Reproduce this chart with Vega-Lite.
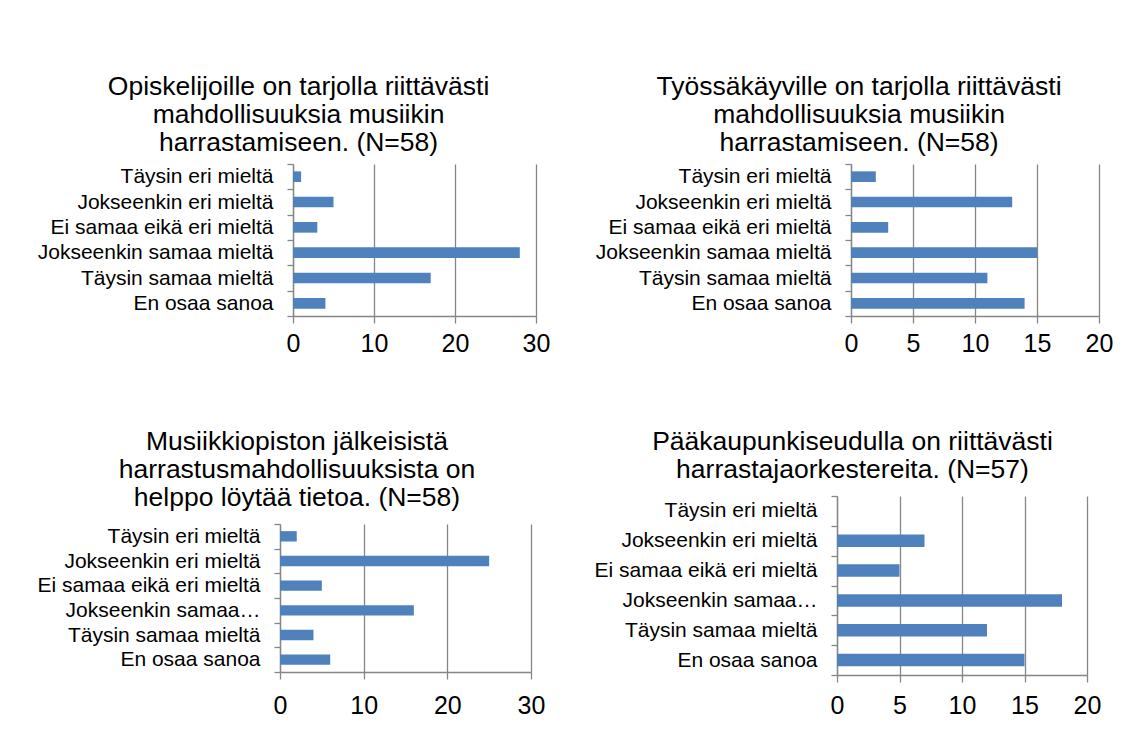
{
  "$schema": "https://vega.github.io/schema/vega-lite/v6.json",
  "background": "white",
  "padding": {"left": 37, "top": 73, "right": 0, "bottom": 0},
  "autosize": {"type": "pad"},
  "config": {
    "font": "Liberation Sans",
    "view": {"stroke": null},
    "axis": {"domainColor": "#868686", "tickColor": "#868686", "gridColor": "#868686", "labelColor": "#000000", "labelFont": "Liberation Sans", "title": null},
    "title": {"font": "Liberation Sans", "fontSize": 26.5, "fontWeight": "normal", "color": "#000000", "lineHeight": 28, "anchor": "middle", "frame": "bounds"}
  },
  "datasets": {
    "survey": [
      {"panel": 1, "category": "Täysin eri mieltä", "value": 1},
      {"panel": 1, "category": "Jokseenkin eri mieltä", "value": 5},
      {"panel": 1, "category": "Ei samaa eikä eri mieltä", "value": 3},
      {"panel": 1, "category": "Jokseenkin samaa mieltä", "value": 28},
      {"panel": 1, "category": "Täysin samaa mieltä", "value": 17},
      {"panel": 1, "category": "En osaa sanoa", "value": 4},
      {"panel": 2, "category": "Täysin eri mieltä", "value": 2},
      {"panel": 2, "category": "Jokseenkin eri mieltä", "value": 13},
      {"panel": 2, "category": "Ei samaa eikä eri mieltä", "value": 3},
      {"panel": 2, "category": "Jokseenkin samaa mieltä", "value": 15},
      {"panel": 2, "category": "Täysin samaa mieltä", "value": 11},
      {"panel": 2, "category": "En osaa sanoa", "value": 14},
      {"panel": 3, "category": "Täysin eri mieltä", "value": 2},
      {"panel": 3, "category": "Jokseenkin eri mieltä", "value": 25},
      {"panel": 3, "category": "Ei samaa eikä eri mieltä", "value": 5},
      {"panel": 3, "category": "Jokseenkin samaa mieltä", "value": 16},
      {"panel": 3, "category": "Täysin samaa mieltä", "value": 4},
      {"panel": 3, "category": "En osaa sanoa", "value": 6},
      {"panel": 4, "category": "Täysin eri mieltä", "value": 0},
      {"panel": 4, "category": "Jokseenkin eri mieltä", "value": 7},
      {"panel": 4, "category": "Ei samaa eikä eri mieltä", "value": 5},
      {"panel": 4, "category": "Jokseenkin samaa mieltä", "value": 18},
      {"panel": 4, "category": "Täysin samaa mieltä", "value": 12},
      {"panel": 4, "category": "En osaa sanoa", "value": 15}
    ]
  },
  "spacing": 44,
  "hconcat": [
    {
      "concat": [
        {
          "title": {"text": ["Opiskelijoille on tarjolla riittävästi", "mahdollisuuksia musiikin", "harrastamiseen. (N=58)"], "offset": -3, "dx": 5},
          "width": 256, "height": 152,
          "data": {"name": "survey"},
          "transform": [{"filter": "datum.panel == 1"}],
          "mark": {"type": "bar", "color": "#4F81BD", "height": {"band": 0.42}},
          "encoding": {
            "y": {"field": "category", "type": "nominal",
              "sort": ["Täysin eri mieltä", "Jokseenkin eri mieltä", "Ei samaa eikä eri mieltä", "Jokseenkin samaa mieltä", "Täysin samaa mieltä", "En osaa sanoa"],
              "scale": {"paddingInner": 0, "paddingOuter": 0},
              "axis": {"offset": -13, "tickBand": "extent", "labelFontSize": 21, "labelPadding": 14, "tickSize": 6, "tickWidth": 1.3, "domainWidth": 1.3, "grid": false, "labelLimit": 400}},
            "x": {"field": "value", "type": "quantitative", "scale": {"domain": [0, 30], "nice": false, "range": [13, 256]},
              "axis": {"values": [0, 10, 20, 30], "grid": true, "gridWidth": 1.3, "domainWidth": 1.3, "tickWidth": 1.3, "labelFontSize": 25, "tickSize": 7, "labelPadding": 8, "labelFlush": false, "labelOverlap": false}}
          }
        },
        {
          "title": {"text": ["Musiikkiopiston jälkeisistä", "harrastusmahdollisuuksista on", "helppo löytää tietoa. (N=58)"], "offset": 2, "dx": 6},
          "width": 251, "height": 148,
          "data": {"name": "survey"},
          "transform": [{"filter": "datum.panel == 3"}],
          "mark": {"type": "bar", "color": "#4F81BD", "height": {"band": 0.42}},
          "encoding": {
            "y": {"field": "category", "type": "nominal",
              "sort": ["Täysin eri mieltä", "Jokseenkin eri mieltä", "Ei samaa eikä eri mieltä", "Jokseenkin samaa mieltä", "Täysin samaa mieltä", "En osaa sanoa"],
              "scale": {"paddingInner": 0, "paddingOuter": 0},
              "axis": {"tickBand": "extent", "labelFontSize": 21, "labelPadding": 14, "tickSize": 6, "tickWidth": 1.3, "domainWidth": 1.3, "grid": false, "labelLimit": 400,
                "labelExpr": "datum.label == 'Jokseenkin samaa mieltä' ? 'Jokseenkin samaa…' : datum.label"}},
            "x": {"field": "value", "type": "quantitative", "scale": {"domain": [0, 30], "nice": false},
              "axis": {"values": [0, 10, 20, 30], "grid": true, "gridWidth": 1.3, "domainWidth": 1.3, "tickWidth": 1.3, "labelFontSize": 25, "tickSize": 7, "labelPadding": 14, "labelFlush": false, "labelOverlap": false}}
          }
        }
      ],
      "columns": 1,
      "align": "none",
      "spacing": 72
    },
    {
      "concat": [
        {
          "title": {"text": ["Työssäkäyville on tarjolla riittävästi", "mahdollisuuksia musiikin", "harrastamiseen. (N=58)"], "offset": -3, "dx": 5},
          "width": 262, "height": 152,
          "data": {"name": "survey"},
          "transform": [{"filter": "datum.panel == 2"}],
          "mark": {"type": "bar", "color": "#4F81BD", "height": {"band": 0.42}},
          "encoding": {
            "y": {"field": "category", "type": "nominal",
              "sort": ["Täysin eri mieltä", "Jokseenkin eri mieltä", "Ei samaa eikä eri mieltä", "Jokseenkin samaa mieltä", "Täysin samaa mieltä", "En osaa sanoa"],
              "scale": {"paddingInner": 0, "paddingOuter": 0},
              "axis": {"offset": -14, "tickBand": "extent", "labelFontSize": 21, "labelPadding": 14, "tickSize": 6, "tickWidth": 1.3, "domainWidth": 1.3, "grid": false, "labelLimit": 400}},
            "x": {"field": "value", "type": "quantitative", "scale": {"domain": [0, 20], "nice": false, "range": [14, 262]},
              "axis": {"values": [0, 5, 10, 15, 20], "grid": true, "gridWidth": 1.3, "domainWidth": 1.3, "tickWidth": 1.3, "labelFontSize": 25, "tickSize": 7, "labelPadding": 8, "labelFlush": false, "labelOverlap": false}}
          }
        },
        {
          "title": {"text": ["Pääkaupunkiseudulla on riittävästi", "harrastajaorkestereita. (N=57)"], "offset": 2, "dx": 5},
          "width": 250, "height": 179,
          "data": {"name": "survey"},
          "transform": [{"filter": "datum.panel == 4"}],
          "mark": {"type": "bar", "color": "#4F81BD", "height": {"band": 0.42}},
          "encoding": {
            "y": {"field": "category", "type": "nominal",
              "sort": ["Täysin eri mieltä", "Jokseenkin eri mieltä", "Ei samaa eikä eri mieltä", "Jokseenkin samaa mieltä", "Täysin samaa mieltä", "En osaa sanoa"],
              "scale": {"paddingInner": 0, "paddingOuter": 0},
              "axis": {"tickBand": "extent", "labelFontSize": 21, "labelPadding": 14, "tickSize": 6, "tickWidth": 1.3, "domainWidth": 1.3, "grid": false, "labelLimit": 400,
                "labelExpr": "datum.label == 'Jokseenkin samaa mieltä' ? 'Jokseenkin samaa…' : datum.label"}},
            "x": {"field": "value", "type": "quantitative", "scale": {"domain": [0, 20], "nice": false},
              "axis": {"values": [0, 5, 10, 15, 20], "grid": true, "gridWidth": 1.3, "domainWidth": 1.3, "tickWidth": 1.3, "labelFontSize": 25, "tickSize": 7, "labelPadding": 11, "labelFlush": false, "labelOverlap": false}}
          }
        }
      ],
      "columns": 1,
      "align": "none",
      "spacing": 72
    }
  ]
}
